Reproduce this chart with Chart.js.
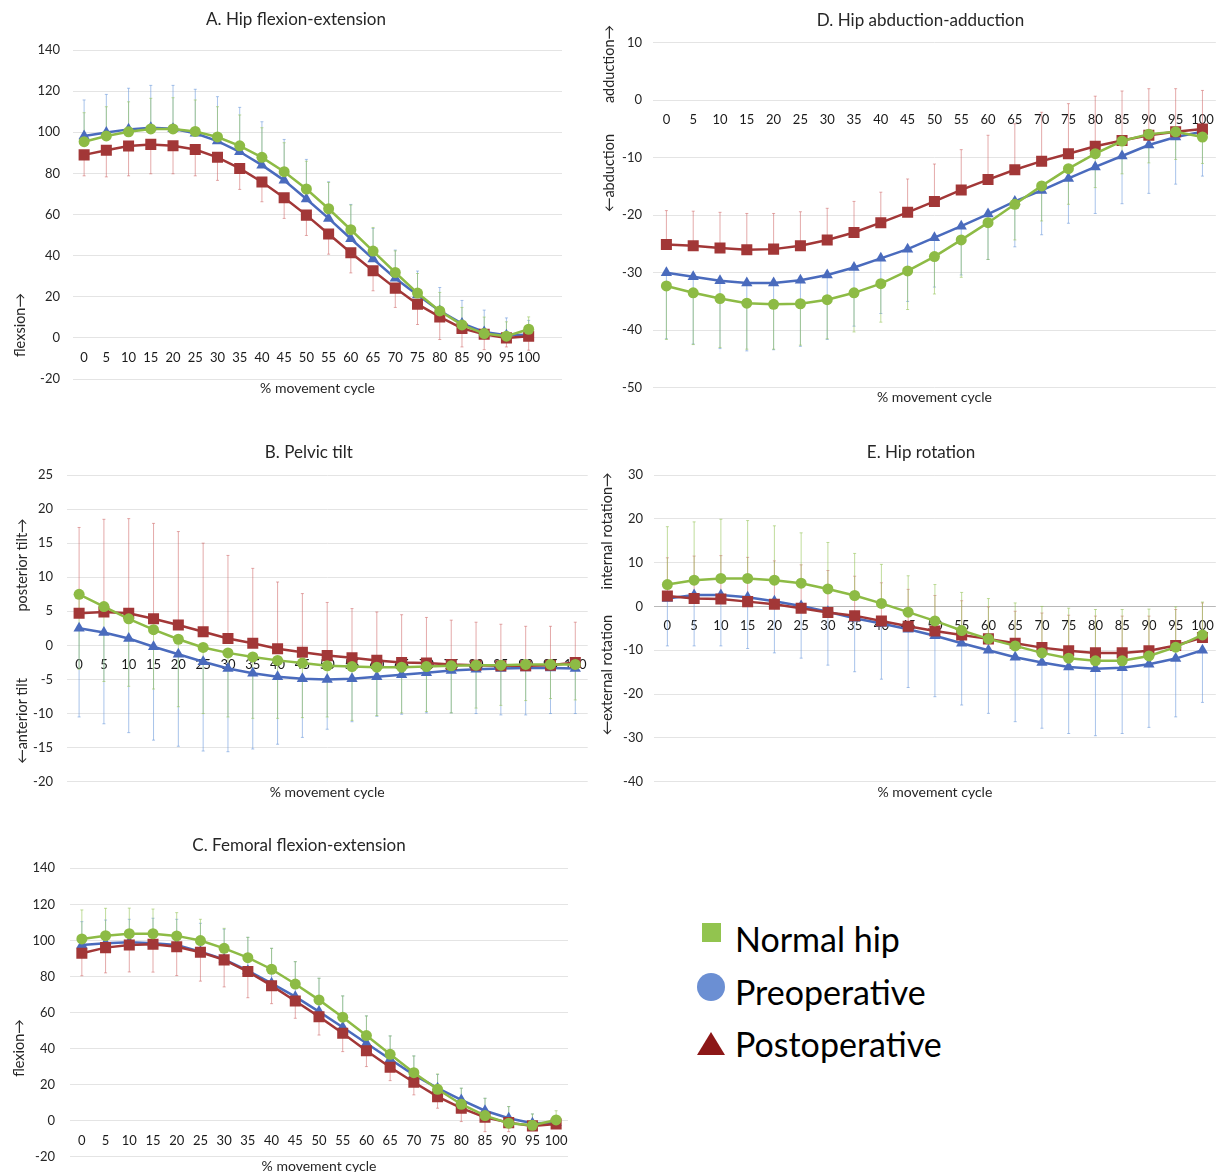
<!DOCTYPE html>
<html>
<head>
<meta charset="UTF-8">
<script src="https://cdn.jsdelivr.net/npm/chart.js@4.4.1/dist/chart.umd.min.js"></script>
<style>
    body { margin: 0; width: 1226px; height: 1172px; overflow: hidden; background: #fff; font-family: Lato, sans-serif; }
    .panel { position: absolute; }
    .ytitle { position: absolute; transform: translate(-50%, -50%) rotate(-90deg); white-space: nowrap; font-size: 14.5px; color: #262626; }
    .leg { position: absolute; font-size: 34px; color: #000; line-height: 1; white-space: nowrap; }
</style>
</head>
<body>

<div class="panel" style="left:0px;top:0px"><canvas id="chartA" width="580" height="410"></canvas></div>
<div class="panel" style="left:594px;top:0px"><canvas id="chartD" width="632" height="420"></canvas></div>
<div class="panel" style="left:0px;top:430px"><canvas id="chartB" width="600" height="380"></canvas></div>
<div class="panel" style="left:594px;top:430px"><canvas id="chartE" width="632" height="380"></canvas></div>
<div class="panel" style="left:0px;top:830px"><canvas id="chartC" width="580" height="360"></canvas></div>

<div class="ytitle" style="left:19px;top:325px">flexsion→</div>
<div class="ytitle" style="left:608px;top:64px">adduction→</div>
<div class="ytitle" style="left:608px;top:173px">←abduction</div>
<div class="ytitle" style="left:21px;top:565px">posterior tilt→</div>
<div class="ytitle" style="left:21px;top:721px">←anterior tilt</div>
<div class="ytitle" style="left:606px;top:531px">internal rotation→</div>
<div class="ytitle" style="left:606px;top:675px">←external rotation</div>
<div class="ytitle" style="left:18px;top:1048px">flexion→</div>

<!-- legend (symbols as in the original figure) -->
<div style="position:absolute;left:702px;top:923px;width:19px;height:19px;background:#92c44f"></div>
<div class="leg" style="left:735px;top:922px">Normal hip</div>
<div style="position:absolute;left:697px;top:973px;width:28px;height:28px;border-radius:50%;background:#6b8fd3"></div>
<div class="leg" style="left:735px;top:975px">Preoperative</div>
<div style="position:absolute;left:697px;top:1032px;width:0;height:0;border-left:14.5px solid transparent;border-right:14.5px solid transparent;border-bottom:23px solid #8c1717"></div>
<div class="leg" style="left:735px;top:1027px">Postoperative</div>

<script>
// % movement cycle
const pct = ['0','5','10','15','20','25','30','35','40','45','50','55','60','65','70','75','80','85','90','95','100'];

// A. Hip flexion-extension
const hipFlexNormal = [95.4, 98.2, 100.2, 101.6, 101.6, 100.4, 97.7, 93.4, 87.8, 80.8, 72.4, 62.8, 52.6, 42.2, 31.8, 21.8, 13.1, 6.3, 2.1, 0.8, 4.2];
const hipFlexPre    = [98.2, 99.9, 101.4, 102.2, 101.7, 99.5, 95.7, 90.5, 84.0, 76.6, 67.5, 58.1, 48.2, 38.4, 29.0, 20.8, 13.1, 7.0, 2.9, 1.3, 1.5];
const hipFlexPost   = [89.0, 91.2, 93.3, 94.1, 93.4, 91.6, 87.8, 82.4, 75.8, 68.1, 59.7, 50.5, 41.4, 32.6, 24.2, 16.4, 10.2, 4.6, 1.8, 0.0, 0.8];
const hipFlexNormalSD = [14.1, 14.2, 14.6, 14.9, 15.2, 15.3, 14.7, 15.0, 14.4, 14.1, 13.5, 12.8, 12.0, 11.5, 10.5, 9.5, 9.0, 8.5, 8.0, 7.0, 6.0];
const hipFlexPreSD    = [17.5, 18.5, 20.0, 20.6, 21.1, 21.4, 21.6, 21.6, 21.1, 19.9, 19.3, 17.8, 16.7, 14.8, 13.7, 11.7, 11.4, 11.2, 10.6, 8.4, 7.0];
const hipFlexPostSD   = [10.2, 12.9, 14.5, 14.3, 13.6, 12.8, 11.2, 10.2, 9.6, 10.0, 9.9, 9.8, 9.8, 9.7, 9.4, 9.9, 11.0, 9.0, 7.5, 4.4, 6.8];

// B. Pelvic tilt
const pelvNormal = [7.5, 5.7, 3.9, 2.3, 0.9, -0.3, -1.1, -1.7, -2.2, -2.6, -3.0, -3.1, -3.2, -3.2, -3.1, -3.0, -2.9, -2.9, -2.8, -2.8, -2.8];
const pelvPre    = [2.5, 1.9, 1.0, -0.2, -1.3, -2.4, -3.4, -4.1, -4.6, -4.9, -5.0, -4.9, -4.6, -4.3, -4.0, -3.7, -3.5, -3.4, -3.3, -3.3, -3.4];
const pelvPost   = [4.7, 4.9, 4.7, 3.9, 3.0, 2.0, 1.0, 0.3, -0.5, -1.0, -1.5, -1.8, -2.2, -2.5, -2.6, -2.8, -2.9, -3.0, -3.0, -2.9, -2.5];
const pelvNormalSD = [11.0, 11.0, 9.9, 8.7, 9.9, 9.7, 9.4, 9.0, 8.5, 8.0, 7.5, 7.9, 7.1, 6.7, 6.6, 6.9, 6.3, 5.9, 5.3, 5.0, 5.2];
const pelvPreSD    = [13.0, 13.4, 13.8, 13.7, 13.5, 13.1, 12.2, 11.1, 9.9, 8.6, 7.3, 6.3, 5.8, 5.8, 5.9, 6.2, 6.5, 6.8, 6.9, 6.7, 6.6];
const pelvPostSD   = [12.6, 13.6, 13.9, 14.0, 13.7, 13.0, 12.2, 11.0, 9.8, 8.6, 7.8, 7.2, 7.1, 7.0, 6.7, 6.5, 6.3, 6.1, 5.8, 5.7, 5.9];

// C. Femoral flexion-extension
const femNormal = [100.8, 102.6, 103.7, 103.7, 102.5, 99.9, 95.6, 90.4, 84.0, 75.8, 67.0, 57.4, 47.2, 36.8, 26.6, 17.4, 9.1, 2.8, -1.4, -2.6, 0.4];
const femPre    = [97.5, 98.4, 99.0, 98.4, 97.5, 93.8, 89.5, 83.2, 76.2, 68.8, 60.5, 51.8, 42.9, 34.1, 25.4, 18.0, 11.5, 5.5, 1.3, -1.4, -1.2];
const femPost   = [92.9, 96.0, 97.5, 97.9, 96.5, 93.4, 89.2, 82.7, 74.9, 66.4, 57.7, 48.5, 38.8, 29.6, 21.3, 13.3, 6.9, 1.9, -1.1, -2.9, -1.8];
const femNormalSD = [16.1, 15.2, 14.2, 13.7, 12.9, 11.8, 11.1, 11.3, 11.6, 12.4, 12.0, 11.8, 10.9, 10.2, 9.3, 8.5, 8.9, 9.6, 9.2, 6.3, 5.1];
const femPreSD    = [12.9, 12.9, 12.7, 13.9, 14.2, 15.7, 16.7, 18.5, 19.4, 19.4, 18.5, 17.4, 15.2, 12.9, 10.5, 7.6, 6.5, 6.9, 6.5, 5.1, 3.2];
const femPostSD   = [12.5, 14.0, 15.0, 15.5, 16.0, 16.0, 15.0, 14.5, 10.0, 9.6, 10.2, 10.2, 8.8, 7.4, 7.0, 6.4, 7.4, 8.0, 5.0, 2.5, 2.5];

// D. Hip abduction-adduction
const abdNormal = [-32.3, -33.5, -34.5, -35.3, -35.5, -35.4, -34.7, -33.5, -31.9, -29.7, -27.2, -24.3, -21.3, -18.1, -14.9, -11.9, -9.3, -7.1, -5.9, -5.5, -6.4];
const abdPre    = [-30.0, -30.7, -31.4, -31.8, -31.8, -31.3, -30.4, -29.1, -27.5, -25.9, -23.9, -21.9, -19.8, -17.6, -15.7, -13.6, -11.6, -9.7, -7.8, -6.4, -5.5];
const abdPost   = [-25.1, -25.3, -25.7, -26.0, -25.9, -25.3, -24.3, -23.0, -21.3, -19.5, -17.6, -15.6, -13.8, -12.1, -10.6, -9.3, -8.0, -7.0, -6.1, -5.5, -5.0];
const abdNormalSD = [9.3, 9.0, 8.5, 8.0, 7.8, 7.2, 6.8, 6.8, 6.7, 6.7, 6.5, 6.5, 6.4, 6.2, 6.1, 6.2, 5.9, 5.7, 5.0, 4.8, 4.6];
const abdPreSD    = [11.5, 11.7, 11.8, 11.8, 11.6, 11.5, 11.2, 10.2, 9.6, 9.1, 8.6, 8.5, 7.9, 7.9, 7.7, 7.8, 8.1, 8.3, 8.4, 8.2, 7.7];
const abdPostSD   = [5.9, 6.0, 6.2, 6.3, 6.2, 5.9, 5.5, 5.4, 5.3, 5.8, 6.5, 7.0, 7.7, 8.0, 8.5, 8.7, 8.7, 8.6, 8.1, 7.5, 6.7];

// E. Hip rotation
const rotNormal = [5.0, 6.0, 6.4, 6.4, 6.0, 5.3, 4.0, 2.5, 0.7, -1.3, -3.3, -5.5, -7.4, -9.0, -10.6, -11.8, -12.4, -12.4, -11.3, -9.3, -6.5];
const rotPre    = [1.8, 2.6, 2.6, 2.1, 1.2, 0.1, -1.2, -2.7, -3.9, -5.2, -6.7, -8.4, -10.0, -11.6, -12.8, -13.8, -14.2, -14.0, -13.2, -11.9, -10.0];
const rotPost   = [2.4, 1.8, 1.7, 1.1, 0.5, -0.4, -1.4, -2.1, -3.3, -4.5, -5.6, -6.5, -7.4, -8.4, -9.4, -10.1, -10.6, -10.6, -10.1, -8.9, -7.1];
const rotNormalSD = [13.2, 13.3, 13.5, 13.2, 12.4, 11.5, 10.6, 9.6, 8.9, 8.3, 8.3, 8.7, 9.2, 9.8, 10.6, 11.4, 11.7, 11.7, 10.7, 9.2, 7.5];
const rotPreSD    = [10.8, 11.6, 11.6, 11.7, 11.8, 11.9, 12.2, 12.2, 12.7, 13.3, 13.9, 14.1, 14.4, 14.7, 15.0, 15.2, 15.3, 15.0, 14.4, 13.3, 11.9];
const rotPostSD   = [8.7, 9.7, 9.9, 10.1, 9.9, 9.9, 9.6, 9.0, 8.7, 8.4, 8.1, 7.8, 7.3, 7.3, 7.9, 8.1, 8.4, 8.4, 7.9, 8.2, 7.9];

const GREEN = '#8dbb45', BLUE = '#4a6bbd', RED = '#a23737';
const GREEN_ERR = 'rgba(150,196,90,0.6)', BLUE_ERR = 'rgba(110,155,220,0.6)', RED_ERR = 'rgba(205,100,100,0.55)';

Chart.defaults.font.family = 'Lato, sans-serif';
Chart.defaults.color = '#262626';

// one-sided SD whiskers, drawn under the lines
const errorBars = {
    id: 'errorBars',
    beforeDatasetsDraw(chart) {
        const ctx = chart.ctx;
        const ys = chart.scales.y;
        for (let i = chart.data.datasets.length - 1; i >= 0; i--) {
            const ds = chart.data.datasets[i];
            const meta = chart.getDatasetMeta(i);
            ctx.save();
            ctx.strokeStyle = ds.errColor;
            ctx.lineWidth = 1;
            meta.data.forEach(function (pt, j) {
                const yEnd = ys.getPixelForValue(ds.data[j] + ds.errDir * ds.sd[j]);
                ctx.beginPath();
                ctx.moveTo(pt.x, pt.y);
                ctx.lineTo(pt.x, yEnd);
                ctx.moveTo(pt.x - 1.5, yEnd);
                ctx.lineTo(pt.x + 1.5, yEnd);
                ctx.stroke();
            });
            ctx.restore();
        }
    }
};

function series(label, data, sd, dir, color, errColor, style, radius) {
    return {
        label: label, data: data, sd: sd, errDir: dir, errColor: errColor,
        borderColor: color, backgroundColor: color, borderWidth: 2.5,
        pointStyle: style, pointRadius: radius, pointBorderWidth: 0,
        pointBackgroundColor: color, tension: 0
    };
}

function makeChart(id, p) {
    new Chart(document.getElementById(id), {
        type: 'line',
        data: {
            labels: p.labels,
            datasets: [
                series('Normal hip', p.normal, p.normalSD, p.dirs[0], GREEN, GREEN_ERR, 'circle', 5.5),
                series('Postoperative', p.post, p.postSD, p.dirs[2], RED, RED_ERR, 'rect', 7.8),
                series('Preoperative', p.pre, p.preSD, p.dirs[1], BLUE, BLUE_ERR, 'triangle', 6.5)
            ]
        },
        options: {
            responsive: false,
            animation: false,
            layout: { padding: { left: p.padL, right: p.padR, top: 0, bottom: 0 } },
            plugins: {
                legend: { display: false },
                tooltip: { enabled: false },
                title: {
                    display: true, text: p.title, color: '#262626',
                    font: { size: 17, weight: 'normal' },
                    padding: { top: p.titleTop, bottom: p.titleBottom }
                },
                subtitle: {
                    display: true, text: '% movement cycle', position: 'bottom', fullSize: false,
                    color: '#262626', font: { size: 14 },
                    padding: { top: p.subTop, bottom: p.subBottom }
                }
            },
            scales: {
                x: {
                    position: { y: 0 },
                    offset: true,
                    z: 1,
                    grid: { display: false, drawTicks: false },
                    border: { display: false },
                    ticks: { color: '#1a1a1a', font: { size: 13 }, padding: 12, maxRotation: 0, autoSkip: false }
                },
                y: {
                    min: p.yMin, max: p.yMax,
                    afterFit: function (s) { s.width = p.axisW; },
                    grid: {
                        drawTicks: false,
                        color: function (c) { return (p.zeroDark && c.tick.value === 0) ? '#b8b8b8' : '#e4e4e4'; }
                    },
                    border: { display: false },
                    ticks: { stepSize: p.step, color: '#262626', font: { size: 13 }, padding: p.tickPad }
                }
            }
        },
        plugins: [errorBars]
    });
}

makeChart('chartA', {
    title: 'A. Hip flexion-extension', labels: pct.concat(['']),
    normal: hipFlexNormal, pre: hipFlexPre, post: hipFlexPost,
    normalSD: hipFlexNormalSD, preSD: hipFlexPreSD, postSD: hipFlexPostSD, dirs: [1, 1, -1],
    yMin: -20, yMax: 140, step: 20,
    padL: 30, padR: 18, axisW: 43, tickPad: 13,
    titleTop: 9.8, titleBottom: 19.8, subTop: 0.6, subBottom: 13.6
});

makeChart('chartD', {
    title: 'D. Hip abduction-adduction', labels: pct,
    normal: abdNormal, pre: abdPre, post: abdPost,
    normalSD: abdNormalSD, preSD: abdPreSD, postSD: abdPostSD, dirs: [-1, -1, 1],
    yMin: -50, yMax: 10, step: 10,
    padL: 22, padR: 1, axisW: 37, tickPad: 11,
    titleTop: 10.5, titleBottom: 11.8, subTop: 1.2, subBottom: 14.3
});

makeChart('chartB', {
    title: 'B. Pelvic tilt', labels: pct,
    normal: pelvNormal, pre: pelvPre, post: pelvPost,
    normalSD: pelvNormalSD, preSD: pelvPreSD, postSD: pelvPostSD, dirs: [-1, -1, 1],
    yMin: -20, yMax: 25, step: 5,
    padL: 30, padR: 12.3, axisW: 36.7, tickPad: 13.7,
    titleTop: 12.8, titleBottom: 11.8, subTop: 1.9, subBottom: 9.6
});

makeChart('chartE', {
    title: 'E. Hip rotation', labels: pct,
    normal: rotNormal, pre: rotPre, post: rotPost,
    normalSD: rotNormalSD, preSD: rotPreSD, postSD: rotPostSD, dirs: [1, -1, 1],
    yMin: -40, yMax: 30, step: 10, zeroDark: true,
    padL: 22, padR: 0, axisW: 38, tickPad: 11,
    titleTop: 12.5, titleBottom: 12.1, subTop: 1.9, subBottom: 9.6
});

makeChart('chartC', {
    title: 'C. Femoral flexion-extension', labels: pct,
    normal: femNormal, pre: femPre, post: femPost,
    normalSD: femNormalSD, preSD: femPreSD, postSD: femPostSD, dirs: [1, 1, -1],
    yMin: -20, yMax: 140, step: 20,
    padL: 30, padR: 12, axisW: 40, tickPad: 15,
    titleTop: 5.8, titleBottom: 12.1, subTop: 1.6, subBottom: 14.9
});
</script>
</body>
</html>
